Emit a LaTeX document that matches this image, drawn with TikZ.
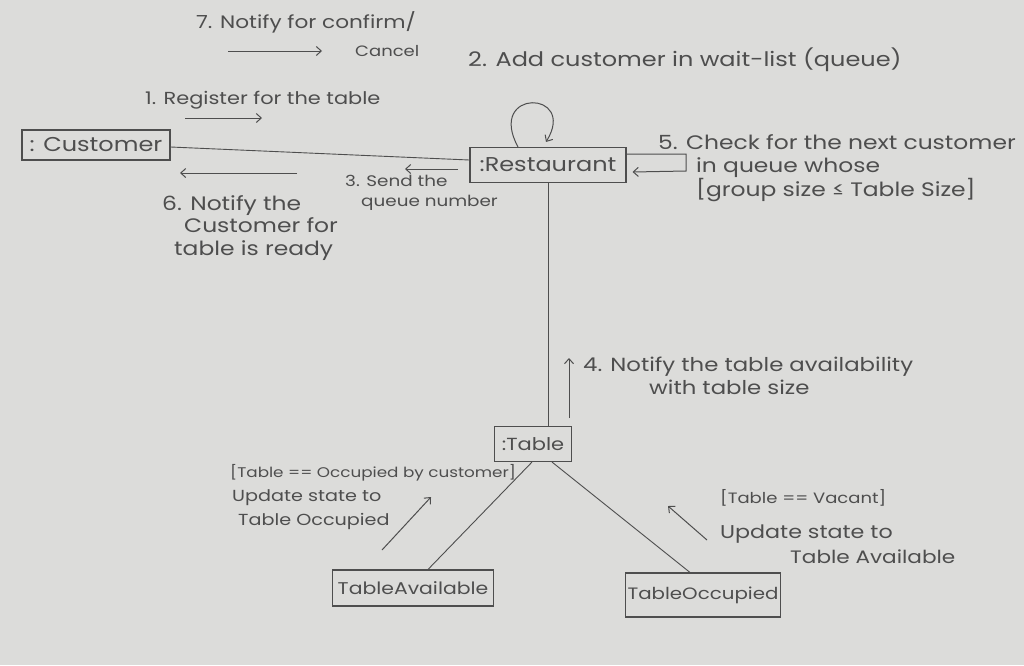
\documentclass[tikz,border=0pt]{standalone}
\usepackage{fontspec}
\setmainfont{Poppins}[FakeStretch=1.2]
\usetikzlibrary{arrows.meta,calc}
\definecolor{paper}{HTML}{DCDCDA}
\definecolor{pencil}{HTML}{4E4E4E}
\newcommand{\hsz}[1]{\fontsize{#1}{23.5}\selectfont}
\tikzset{
  box/.style={draw=pencil, line width=1.1pt, text=pencil, inner sep=2pt},
  lbl/.style={text=pencil, anchor=west, inner sep=0pt, align=left},
  link/.style={draw=pencil, line width=0.9pt},
  msg/.style={draw=pencil, line width=1pt, -{Straight Barb[length=5pt,width=9pt]}}
}
\begin{document}
\begin{tikzpicture}[x=1pt,y=-1pt]
\useasboundingbox (0,0) rectangle (1024,665);
\fill[paper] (0,0) rectangle (1024,665);

% objects
\node[box, font=\hsz{20}, minimum width=148pt, minimum height=30pt] (cust) at (96,145) {: Customer};
\node[box, font=\hsz{20}, minimum width=156pt, minimum height=35pt] (rest) at (548,165) {:Restaurant};
\node[box, font=\hsz{17.5}, minimum width=77pt, minimum height=35pt] (tab) at (533,444) {:Table};
\node[box, font=\hsz{17}, minimum width=161pt, minimum height=36pt] (tavail) at (413,588) {TableAvailable};
\node[box, font=\hsz{16.5}, minimum width=154pt, minimum height=44pt] (tocc) at (703,595) {TableOccupied};

% links
\draw[link] ($(cust.east)+(0,2)$) -- ($(rest.west)+(0,-5)$);
\draw[link] (rest.south) -- (rest.south |- tab.north);
\draw[link] ($(tab.south)+(-1,0)$) -- ($(tavail.north)+(15,0)$);
\draw[link] ($(tab.south)+(19,0)$) -- ($(tocc.north)+(-13,0)$);

% self loop 2
\draw[msg] ($(rest.north)+(-30,0)$) .. controls (486,88) and (578,90) .. ($(rest.north)+(-2,-5)$);
% loop 5
\coordinate (l5a) at (686,154);
\coordinate (l5b) at (686,171);
\draw[msg] ($(rest.east)+(0,-11)$) -- (l5a) -- (l5b) -- ($(rest.east)+(6,7)$);

% message arrows
\coordinate (m7a) at (228,51); \coordinate (m7b) at (322,51);
\draw[msg] (m7a) -- (m7b);
\coordinate (m1a) at (185,118); \coordinate (m1b) at (262,118);
\draw[msg] (m1a) -- (m1b);
\coordinate (m3a) at (458,169); \coordinate (m3b) at (405,169);
\draw[msg] (m3a) -- (m3b);
\coordinate (m6a) at (297,173); \coordinate (m6b) at (180,173);
\draw[msg] (m6a) -- (m6b);
\coordinate (m4a) at (569,418); \coordinate (m4b) at (569,358);
\draw[msg] (m4a) -- (m4b);
\coordinate (mOa) at (382,550); \coordinate (mOb) at (431,497);
\draw[msg] (mOa) -- (mOb);
\coordinate (mVa) at (707,540); \coordinate (mVb) at (668,506);
\draw[msg] (mVa) -- (mVb);

% labels
\node[lbl, font=\hsz{18}] (t7) at (196,22) {7. Notify for confirm/};
\node[lbl, font=\hsz{15}] (t7b) at (355,51) {Cancel};
\node[lbl, font=\hsz{20}] (t2) at (468,60) {2. Add customer in wait-list (queue)};
\node[lbl, font=\hsz{17.4}] (t1) at (145,100) {1. Register for the table};
\node[lbl, font=\fontsize{15.3}{20}\selectfont] (t3) at (345,193) {3. Send the\\\hspace*{16pt}queue number};
\node[lbl, font=\fontsize{19.5}{22.5}\selectfont] (t6) at (162,228) {6. Notify the\\\hspace*{22pt}Customer for\\\hspace*{12pt}table is ready};
\node[lbl, font=\hsz{19.5}] (t5) at (658,168) {5. Check for the next customer\\\hspace*{38pt}in queue whose\\\hspace*{38pt}[group size ≤ Table Size]};
\node[lbl, font=\hsz{19}] (t4) at (583,376) {4. Notify the table availability\\\hspace*{66pt}with table size};
\node[lbl, font=\fontsize{16}{24}\selectfont] (tO) at (230,497) {{\fontsize{14}{24}\selectfont[Table == Occupied by customer]}\\\hspace*{2pt}Update state to\\\hspace*{8pt}Table Occupied};
\node[lbl, font=\fontsize{18.5}{30}\selectfont] (tV) at (720,527) {{\fontsize{15}{30}\selectfont[Table == Vacant]}\\[5pt]Update state to\\[-5pt]\hspace*{70pt}{\fontsize{18}{30}\selectfont Table Available}};
\end{tikzpicture}
\end{document}
